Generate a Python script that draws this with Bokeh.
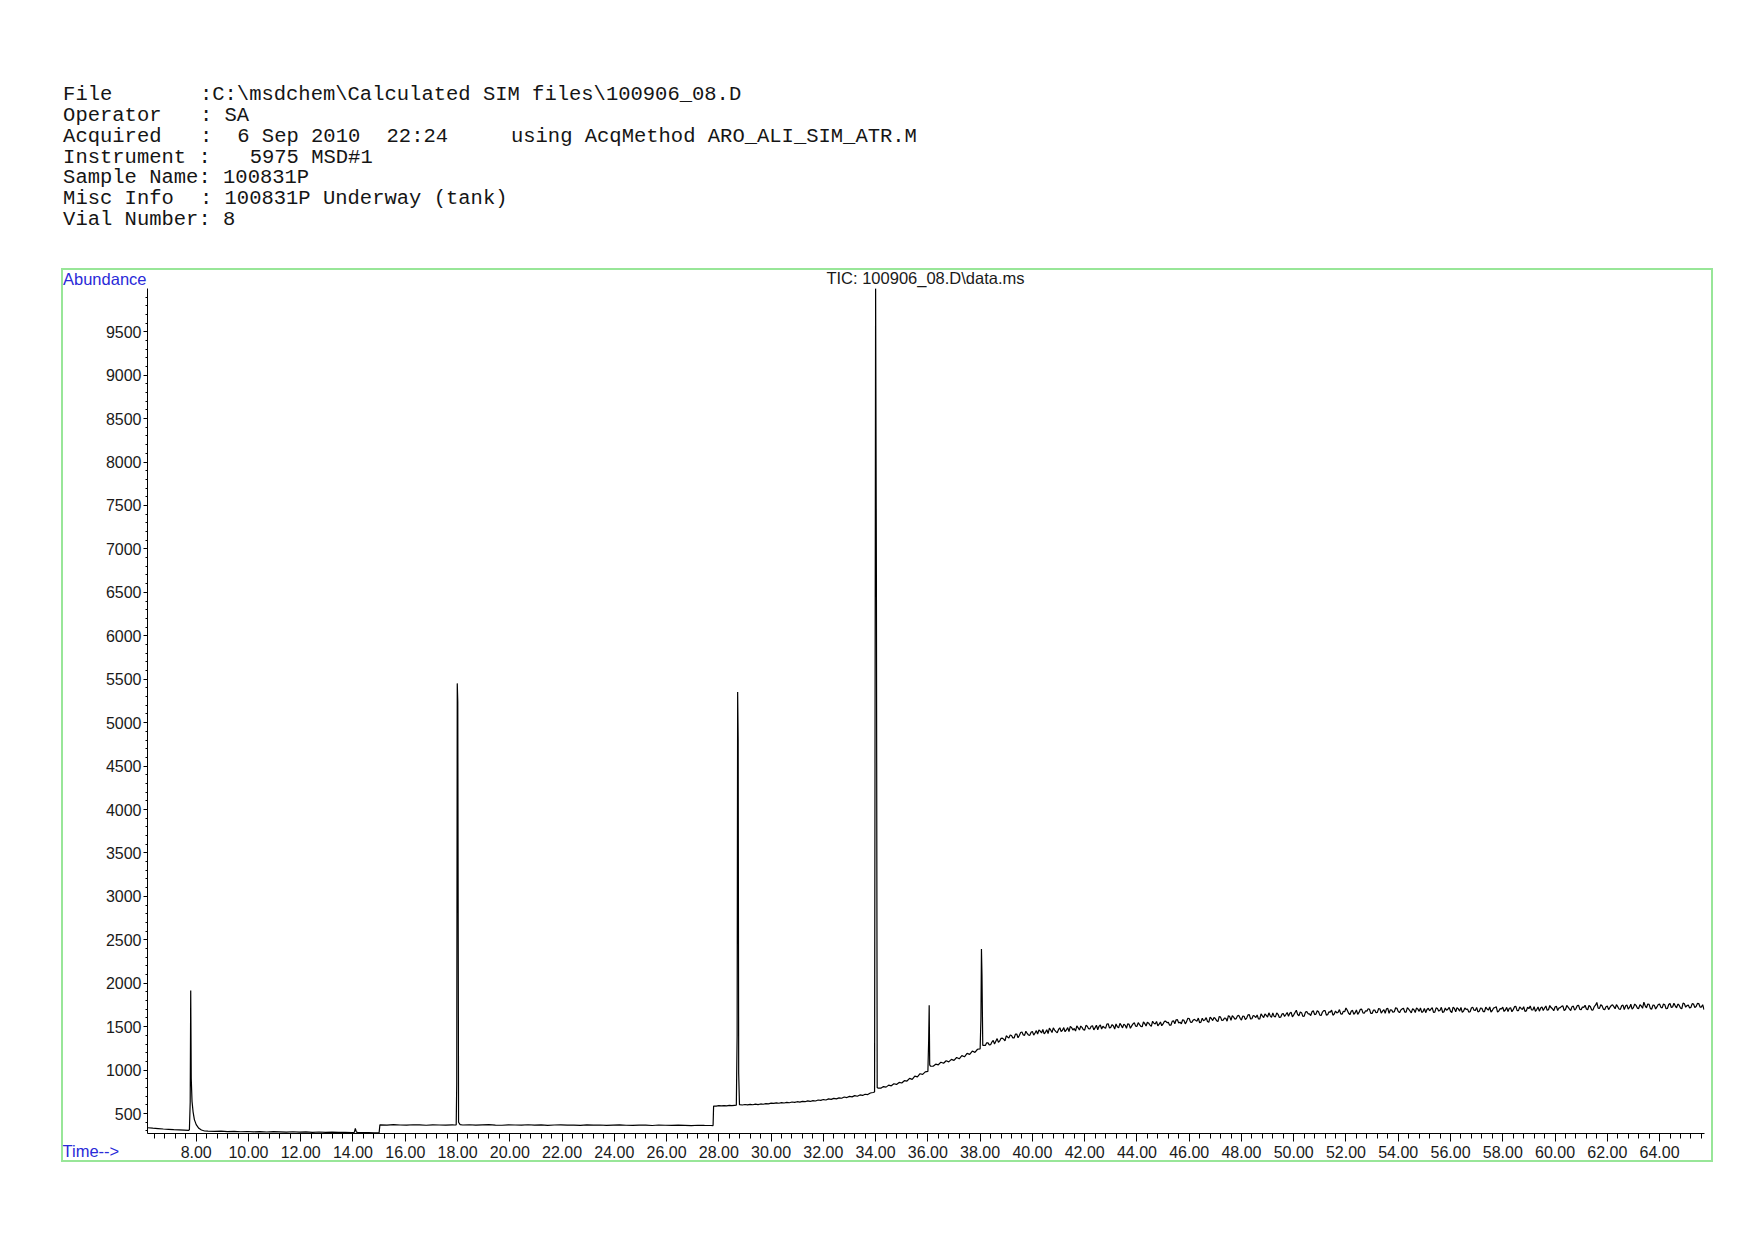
import numpy as np
from bokeh.plotting import figure
from bokeh.layouts import column
from bokeh.models import (Range1d, SingleIntervalTicker, PrintfTickFormatter, Label,
                          ColumnDataSource)
from bokeh.embed import file_html
from bokeh.resources import INLINE

# ---------------- header texts ----------------
header_lines = [
    [(0, "File"), (11, ":C:\\msdchem\\Calculated SIM files\\100906_08.D")],
    [(0, "Operator"), (11, ": SA")],
    [(0, "Acquired"), (11, ":"), (14, "6 Sep 2010"), (26, "22:24"), (36, "using AcqMethod ARO_ALI_SIM_ATR.M")],
    [(0, "Instrument :"), (15, "5975 MSD#1")],
    [(0, "Sample Name: 100831P")],
    [(0, "Misc Info"), (11, ": 100831P Underway (tank)")],
    [(0, "Vial Number: 8")],
]
plot_title = "TIC: 100906_08.D\\data.ms"
y_label = "Abundance"
x_label = "Time-->"

# ---------------- chromatogram data (time in min, abundance) ----------------
# regularly scanned baseline segments: (start time, scan step, abundances)
seg1 = (6.14, 0.2, [336, 331, 327, 322, 318, 314, 311, 308])
seg2 = (8.45, 0.25, [297, 294, 298, 292, 295, 290, 293, 289, 292, 287, 291, 288, 285, 290,
                     286, 288, 284, 287, 283, 285, 282, 284, 281])
seg3 = (14.2, 0.2, [281, 279, 280, 278, 279])
seg4 = (15.05, 0.25, [370, 367, 372, 368, 366, 371, 369, 365, 370, 368, 367, 369])
seg5 = (18.2, 0.25, [368, 371, 366, 369, 372, 367, 365, 370, 368, 366,
                     371, 367, 369, 364, 368, 370, 366, 367, 363, 369,
                     366, 368, 364, 367, 369, 365, 363, 367, 366, 362,
                     368, 365, 363, 366, 364, 361, 365, 363, 362])
seg6 = (27.9, 0.1, [586, 590, 588, 592, 589, 593, 591, 594])
seg7 = (28.9, 0.1, [598, 604, 600, 606, 601, 608, 603, 610, 607, 614,
                    612, 619, 616, 623, 618, 626, 621, 628, 624, 633,
                    628, 636, 631, 640, 636, 645, 639, 649, 644, 656,
                    651, 661, 656, 668, 663, 675, 669, 680, 676, 690,
                    684, 697, 692, 706, 699, 714, 708, 722, 718, 736,
                    742])
seg8 = (34.2, 0.1, [792, 810, 804, 827, 819, 843, 835, 858, 851, 878, 874, 904, 893, 931,
                    922, 958, 951, 980])
seg9 = (36.2, 0.1, [1044, 1068, 1061, 1091, 1079, 1108, 1095, 1123, 1112, 1145, 1130, 1166,
                    1153, 1192, 1181, 1219, 1204, 1240])
seg10 = (38.2, 0.1, [
    1284, 1314, 1292, 1342, 1333, 1320, 1366, 1356, 1395, 1368,
    1398, 1370, 1415, 1399, 1438, 1400, 1422, 1400, 1445, 1427,
    1416, 1449, 1467, 1435, 1421, 1461, 1486, 1443, 1468, 1445,
    1489, 1462, 1444, 1489, 1479, 1509, 1462, 1492, 1461, 1504,
    1474, 1510, 1489, 1464, 1519, 1505, 1481, 1533, 1492, 1508,
    1531, 1486, 1515, 1529, 1482, 1526, 1509, 1545, 1504, 1524,
    1499, 1535, 1551, 1518, 1562, 1530, 1510, 1554, 1532, 1564,
    1550, 1517, 1568, 1579, 1543, 1533, 1572, 1558, 1594, 1548,
    1584, 1564, 1545, 1598, 1578, 1560, 1610, 1570, 1593, 1559,
    1610, 1575, 1597, 1626, 1573, 1610, 1593, 1629, 1576, 1620,
    1599, 1638, 1591, 1622, 1635, 1588, 1624, 1646, 1611, 1625,
    1659, 1613, 1642, 1608, 1652, 1640, 1619, 1666, 1636, 1689,
    1626, 1661, 1620, 1674, 1647, 1672, 1639, 1684, 1633, 1668,
    1684, 1638, 1667, 1632, 1680, 1665, 1647, 1678, 1715, 1654,
    1678, 1643, 1692, 1664, 1702, 1655, 1679, 1700, 1652, 1691,
    1664, 1703, 1679, 1654, 1710, 1695, 1665, 1717, 1675, 1692,
    1712, 1668, 1702, 1658, 1694, 1717, 1676, 1664, 1710, 1698,
    1682, 1719, 1668, 1708, 1690, 1663, 1714, 1701, 1677, 1724,
    1672, 1705, 1722, 1680, 1698, 1668, 1714, 1690, 1722, 1678,
    1711, 1672, 1704, 1727, 1686, 1719, 1668, 1708, 1724, 1692,
    1673, 1718, 1696, 1733, 1685, 1711, 1730, 1681, 1707, 1693,
    1729, 1697, 1678, 1726, 1715, 1688, 1743, 1706, 1726, 1686,
    1719, 1739, 1697, 1726, 1685, 1737, 1708, 1746, 1696, 1722,
    1704, 1743, 1694, 1730, 1779, 1710, 1741, 1695, 1737, 1721,
    1752, 1706, 1730, 1699, 1748, 1738, 1703, 1758, 1719, 1745,
    1708, 1738, 1782, 1717, 1756, 1702, 1745, 1727, 1760, 1716,
    1753, 1709, 1766, 1726, 1740, 1760, 1716, 1772, 1724, 1748,
    1722, 1760, 1731, 1766, 1726, 1695])
# interleaved scans of the same noisy region (half a step later)
seg10b = (38.25, 0.1, [
    1315, 1290, 1323, 1301, 1362, 1336, 1368, 1337, 1381, 1404,
    1371, 1414, 1372, 1432, 1405, 1448, 1404, 1435, 1402, 1454,
    1462, 1427, 1417, 1465, 1482, 1432, 1461, 1430, 1487, 1458,
    1442, 1489, 1504, 1461, 1449, 1487, 1507, 1465, 1515, 1476,
    1505, 1463, 1516, 1504, 1473, 1491, 1529, 1484, 1524, 1473,
    1498, 1537, 1486, 1515, 1534, 1482, 1532, 1506, 1547, 1503,
    1556, 1507, 1540, 1504, 1539, 1560, 1528, 1511, 1560, 1547,
    1517, 1561, 1534, 1580, 1551, 1579, 1532, 1596, 1552, 1575,
    1572, 1599, 1552, 1567, 1604, 1550, 1594, 1605, 1569, 1618,
    1572, 1599, 1563, 1616, 1627, 1587, 1626, 1596, 1622, 1581,
    1635, 1588, 1629, 1605, 1589, 1648, 1605, 1630, 1659, 1607,
    1618, 1658, 1606, 1644, 1618, 1663, 1654, 1612, 1663, 1640,
    1668, 1618, 1667, 1648, 1628, 1683, 1644, 1672, 1629, 1685,
    1633, 1671, 1690, 1646, 1658, 1696, 1643, 1671, 1689, 1638,
    1688, 1660, 1642, 1700, 1659, 1683, 1706, 1653, 1690, 1660,
    1709, 1656, 1696, 1705, 1653, 1690, 1672, 1712, 1661, 1705,
    1668, 1720, 1680, 1707, 1663, 1702, 1716, 1675, 1661, 1712,
    1702, 1664, 1716, 1679, 1723, 1672, 1689, 1721, 1663, 1710,
    1719, 1679, 1664, 1715, 1704, 1672, 1725, 1686, 1670, 1715,
    1674, 1725, 1690, 1669, 1715, 1730, 1681, 1705, 1675, 1722,
    1712, 1672, 1730, 1685, 1727, 1698, 1676, 1724, 1738, 1692,
    1677, 1727, 1715, 1687, 1738, 1695, 1720, 1684, 1736, 1714,
    1734, 1686, 1744, 1705, 1730, 1690, 1742, 1699, 1726, 1747,
    1695, 1733, 1690, 1747, 1713, 1753, 1702, 1730, 1696, 1743,
    1731, 1754, 1703, 1740, 1696, 1751, 1721, 1702, 1760, 1714,
    1754, 1711, 1740, 1761, 1707, 1749, 1703, 1755, 1724, 1761,
    1706, 1755, 1721, 1769, 1716, 1747, 1706, 1763, 1742, 1716,
    1765, 1720, 1768, 1726, 1753])

# peaks and steps: explicit (times, abundances)
peak1 = ([7.70, 7.74, 7.77, 7.79, 7.81, 7.84, 7.88, 7.93, 8.00, 8.10, 8.20, 8.32],
         [305, 312, 630, 1917, 903, 640, 520, 430, 372, 330, 310, 299])
bump14 = ([14.05, 14.09, 14.13], [282, 330, 285])
step15 = ([15.03], [370])
peak2 = ([17.90, 17.95, 17.97, 17.99, 18.01, 18.04, 18.10],
         [368, 370, 845, 5452, 5240, 400, 372])
step28 = ([27.78, 27.80], [361, 585])
peak3 = ([28.67, 28.70, 28.72, 28.74, 28.76, 28.79], [595, 1399, 5354, 4800, 961, 602])
peak4 = ([33.96, 34.00, 34.03, 34.06, 34.09], [748, 10000, 6690, 800, 792])
peak5 = ([36.00, 36.03, 36.05, 36.07, 36.10], [985, 1340, 1745, 1060, 1045])
peak6 = ([38.00, 38.03, 38.05, 38.07, 38.10], [1245, 1591, 2394, 2100, 1285])

x_ticks_interval = 2
y_ticks_interval = 500

segments = [seg1, seg2, seg3, seg4, seg5, seg6, seg7, seg8, seg9, seg10, seg10b]
explicit = [peak1, bump14, step15, peak2, step28, peak3, peak4, peak5, peak6]

t_all, a_all = [], []
for t0, dt, vals in segments:
    for i, v in enumerate(vals):
        t_all.append(round(t0 + dt * i, 4))
        a_all.append(v)
for ts, vs in explicit:
    t_all.extend(ts)
    a_all.extend(vs)
order = np.argsort(np.array(t_all), kind="stable")
src = ColumnDataSource(data=dict(t=np.array(t_all)[order], a=np.array(a_all)[order]))

# ---------------- layout constants (page pixels) ----------------
W = 1738
HEADER_H = 288                 # header strip height (ends at frame top)
FRAME_L, FRAME_R = 147, 1704
FRAME_B = 1133
CHART_H = 944
GREEN = "#98e698"
label_font = "Liberation Sans"
ax_color = "#1a1a1a"
blue = "#2a2ad8"
text_size = "16.5px"
tick_size = "16px"

# ---------------- header figure (pixel coordinates) ----------------
h = figure(width=W, height=HEADER_H, output_backend="svg", toolbar_location=None,
           x_range=Range1d(0, W), y_range=Range1d(HEADER_H, 0),
           x_axis_location=None, y_axis_location=None, min_border=0)
h.frame_align = False
h.title.visible = False
h.outline_line_color = None
h.background_fill_color = None
h.border_fill_color = None
h.xgrid.visible = False
h.ygrid.visible = False

char_w = 12.44
line_h = 20.9
for i, segs in enumerate(header_lines):
    yc = 93.8 + i * line_h
    for col, txt in segs:
        h.add_layout(Label(x=62.6 + col * char_w, y=yc, text=txt,
                           text_font="Liberation Mono", text_font_size="20.5px",
                           text_color="#151515", text_align="left", text_baseline="middle"))

h.add_layout(Label(x=62.5, y=278, text=y_label, text_font=label_font, text_font_size=text_size,
                   text_color=blue, text_align="left", text_baseline="middle"))
h.add_layout(Label(x=925, y=277.5, text=plot_title, text_font=label_font, text_font_size=text_size,
                   text_color=ax_color, text_align="center", text_baseline="middle"))

# ---------------- chromatogram figure ----------------
p = figure(width=W, height=CHART_H, output_backend="svg", toolbar_location=None,
           x_range=Range1d(6.136, 65.72), y_range=Range1d(270, 9998),
           min_border_left=FRAME_L, min_border_top=0, min_border_right=W - FRAME_R,
           min_border_bottom=CHART_H - (FRAME_B - HEADER_H))
p.frame_align = False
p.title.visible = False
p.background_fill_color = None
p.border_fill_color = None
p.outline_line_color = None
p.xgrid.visible = False
p.ygrid.visible = False

p.line("t", "a", source=src, line_color="black", line_width=1.2)

xa = p.xaxis[0]
xa.ticker = SingleIntervalTicker(interval=x_ticks_interval, num_minor_ticks=5)
xa.formatter = PrintfTickFormatter(format="%.2f")
xa.axis_line_color = "black"
xa.major_tick_line_color = "black"
xa.minor_tick_line_color = "black"
xa.major_tick_out = 8
xa.major_tick_in = 0
xa.minor_tick_out = 5
xa.minor_tick_in = 0
xa.major_label_standoff = 4
xa.major_label_text_font = label_font
xa.major_label_text_font_size = tick_size
xa.major_label_text_color = ax_color

ya = p.yaxis[0]
ya.ticker = SingleIntervalTicker(interval=y_ticks_interval, num_minor_ticks=5)
ya.formatter = PrintfTickFormatter(format="%d")
ya.axis_line_color = "black"
ya.major_tick_line_color = "black"
ya.minor_tick_line_color = "black"
ya.major_tick_out = 4
ya.major_tick_in = 0
ya.minor_tick_out = 2
ya.minor_tick_in = 0
ya.major_label_standoff = 2
ya.major_label_text_font = label_font
ya.major_label_text_font_size = tick_size
ya.major_label_text_color = ax_color

# "Time-->" in the panel below the axis (screen units relative to that panel)
p.add_layout(Label(x=62 - FRAME_L, y=27.5, x_units="screen", y_units="screen", text=x_label,
                   text_font=label_font, text_font_size=text_size, text_color=blue,
                   text_align="left", text_baseline="middle"), "below")

# green frame around the chart panel, drawn as the layout background
g = f"linear-gradient({GREEN},{GREEN})"
box_styles = {
    "background-color": "white",
    "background-image": ", ".join([g, g, g, g]),
    "background-size": "1651px 2px, 1651px 2px, 2px 894px, 2px 894px",
    "background-position": "62px 268px, 62px 1160px, 61px 268px, 1711px 268px",
    "background-repeat": "no-repeat",
}
layout = column(h, p, spacing=0, styles=box_styles)

open("out.html", "w").write(file_html(layout, INLINE))
